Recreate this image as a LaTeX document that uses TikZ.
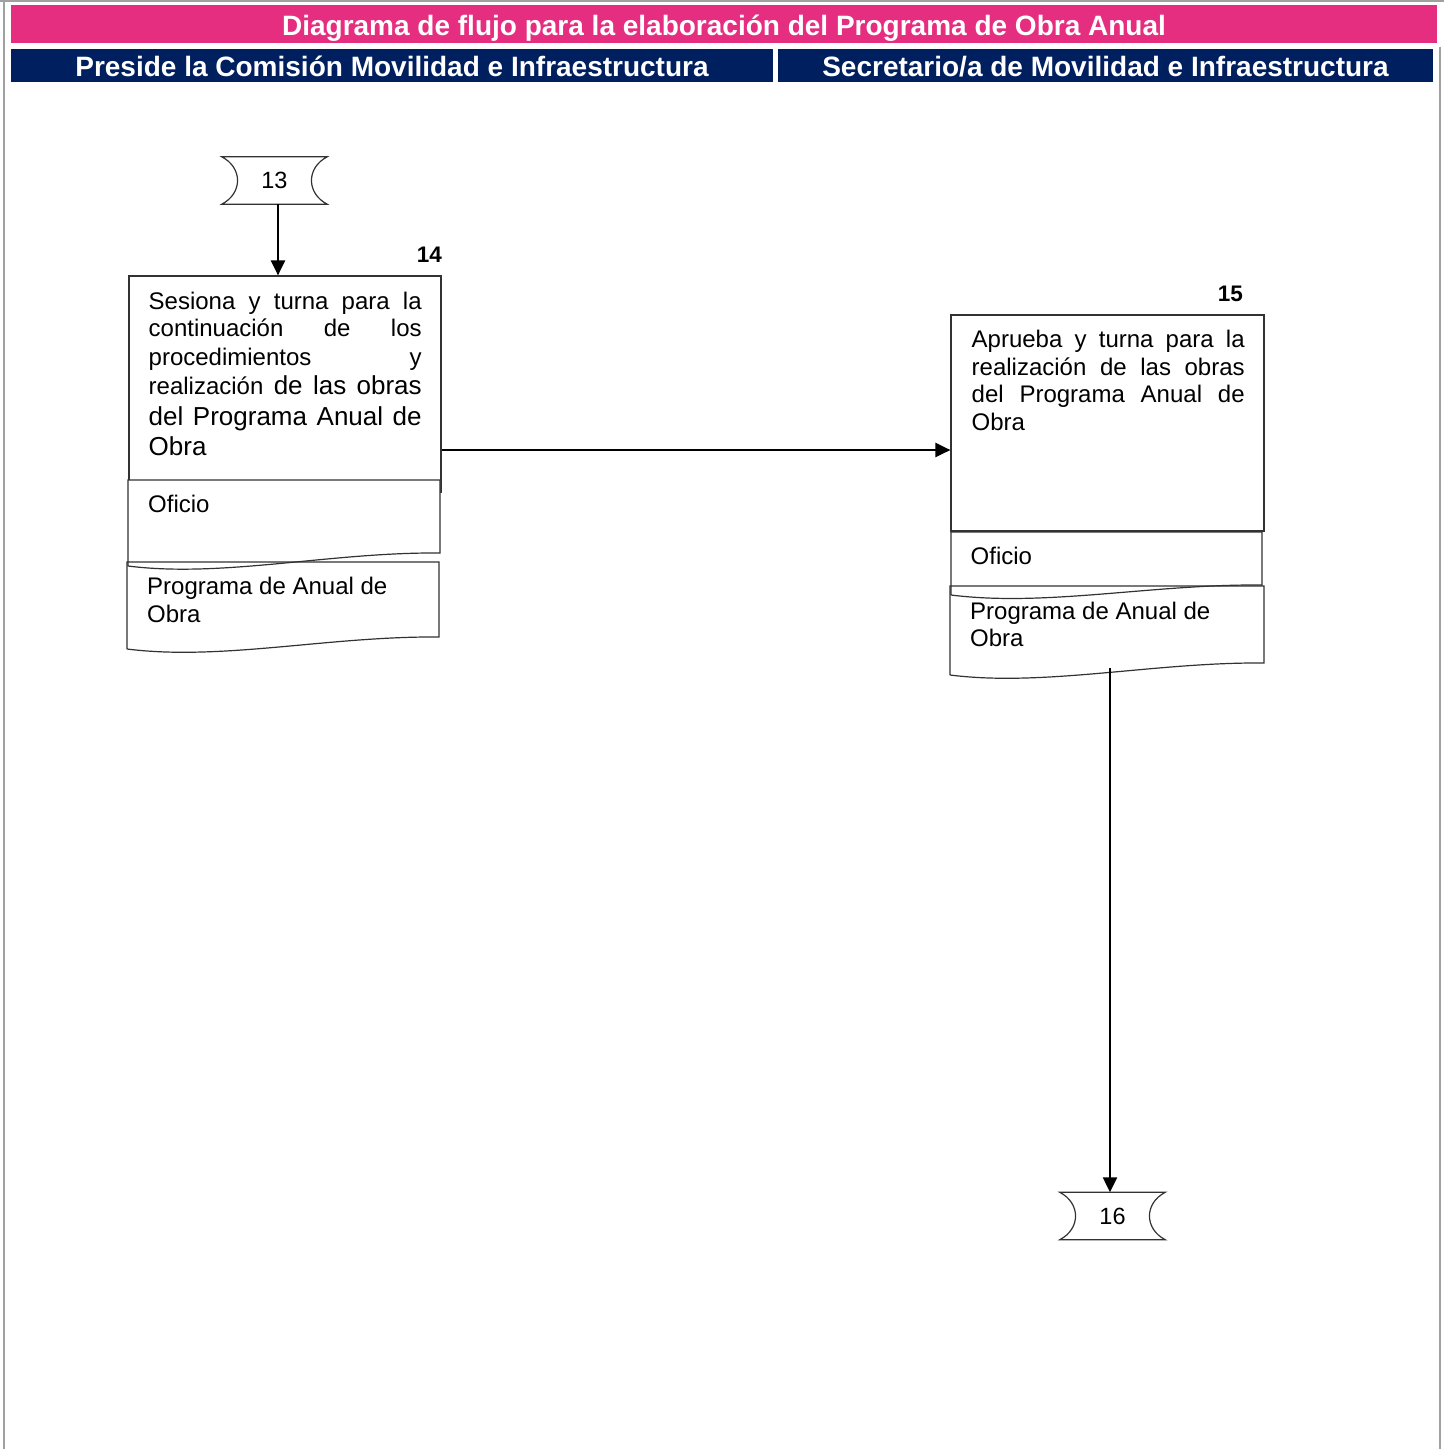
\documentclass[tikz,border=0pt]{standalone}
\usepackage{fontspec}
\setmainfont{Liberation Sans}
\usetikzlibrary{arrows.meta}
\definecolor{titlepink}{RGB}{230,46,128}
\definecolor{lanenavy}{RGB}{0,31,95}
\definecolor{framegray}{RGB}{160,160,160}
\definecolor{edgegray}{RGB}{50,50,50}

% one justified line of a process text
\newcommand\jl[2]{\baselineskip=#1pt\hbox to 273pt{#2}}
% document symbol: left x, right x, top, right bottom, left bottom
\newcommand\docoutline[6][]{%
  \draw[edge,#1] (#2,#6) -- (#2,#4) -- (#3,#4) -- (#3,#5)
    .. controls +(-110,-1) and +(95,12) .. (#2,#6);}

\begin{document}
\begin{tikzpicture}[x=1pt,y=-1pt,
  edge/.style={draw=edgegray,line width=1.2pt},
  flow/.style={draw=black,line width=2.3pt,-{Triangle[length=15pt,width=14pt]}},
  titlebar/.style={fill=titlepink,text=white,inner sep=0pt,
    font=\fontsize{28}{30}\selectfont\bfseries,text height=22pt,text depth=0pt},
  lanebar/.style={fill=lanenavy,text=white,inner sep=0pt,
    font=\fontsize{28}{30}\selectfont\bfseries,text height=22pt,text depth=0pt},
  procbox/.style={edge,fill=white,inner sep=0pt},
  bodytext/.style={inner sep=0pt,anchor=base west,font=\fontsize{24}{27.6}\selectfont},
  stepnum/.style={inner sep=0pt,anchor=base east,font=\fontsize{22.5}{24}\selectfont\bfseries},
  offpage/.style={inner sep=0pt,minimum width=105pt,minimum height=47pt,
    font=\fontsize{23.5}{25}\selectfont},
]
\useasboundingbox (0,0) rectangle (1444,1449);
\fill[white] (0,0) rectangle (1444,1449);

% page frame
\draw[framegray,line width=2.2pt] (0,1.1) -- (1444,1.1);
\draw[framegray,line width=2.2pt] (4.3,0) -- (4.3,1449);
\draw[framegray,line width=2.2pt] (1439.7,46.7) -- (1439.7,1449);

% headers
\node[titlebar,minimum width=1426pt,minimum height=38pt] (title) at (724,24)
  {Diagrama de flujo para la elaboración del Programa de Obra Anual};
\node[lanebar,minimum width=762pt,minimum height=33pt] (laneA) at (392,65.5)
  {Preside la Comisión Movilidad e Infraestructura};
\node[lanebar,minimum width=655pt,minimum height=33pt] (laneB) at (1105.5,65.5)
  {Secretario/a de Movilidad e Infraestructura};

% off-page connector 13
\node[offpage] (c13) at (274.5,180.5) {\raisebox{-1pt}{13}};
\draw[edge] (c13.north west) -- (c13.north east)
  .. controls +(-21,11) and +(-21,-11) .. (c13.south east)
  -- (c13.south west)
  .. controls +(21,-11) and +(21,11) .. (c13.north west) -- cycle;

% step 14
\node[procbox,minimum width=312pt,minimum height=216pt] (b14) at (285,384) {};
\node[stepnum] (n14) at (442,262) {14};
\node[inner sep=0pt,anchor=base west] (t14) at (148.5,309) {\parbox[t]{273pt}{%
  \lineskiplimit=-100pt
  \fontsize{24}{27}\selectfont
  \jl{27}{Sesiona\hfill y\hfill turna\hfill para\hfill la}
  \jl{27.5}{continuación\hfill de\hfill los}
  \jl{28.5}{procedimientos\hfill y}
  \jl{29}{realización\hfill{\fontsize{26}{30}\selectfont de\hfill las\hfill obras}}
  \fontsize{26}{30}\selectfont
  \jl{31.5}{del\hfill Programa\hfill Anual\hfill de}
  \jl{30}{Obra\hfil}}};

% documents of step 14
\docoutline[fill=white]{128}{440}{480}{553}{566}
\node[bodytext] (d14a) at (148,512.7) {Oficio};
\docoutline{127}{439}{562}{637}{649}
\node[bodytext] (d14b) at (147,594.5)
  {\parbox[t]{290pt}{\raggedright Programa de Anual de\\Obra}};

% step 15
\node[procbox,minimum width=313pt,minimum height=216pt] (b15) at (1107.5,423) {};
\node[stepnum] (n15) at (1243,301) {15};
\node[inner sep=0pt,anchor=base west] (t15) at (971.5,347.5) {\parbox[t]{273pt}{%
  \lineskiplimit=-100pt
  \fontsize{24}{27.7}\selectfont
  \jl{27.7}{Aprueba\hfill y\hfill turna\hfill para\hfill la}
  \jl{27.7}{realización\hfill de\hfill las\hfill obras}
  \jl{27.7}{del\hfill Programa\hfill Anual\hfill de}
  \jl{27.7}{Obra\hfil}}};

% documents of step 15
\docoutline[fill=white]{951}{1262}{532}{585}{595}
\node[bodytext] (d15a) at (970.5,564.3) {Oficio};
\docoutline{950}{1264}{586}{663}{675}
\node[bodytext] (d15b) at (970,619)
  {\parbox[t]{290pt}{\raggedright Programa de Anual de\\Obra}};
\coordinate (d15end) at (1110,668);

% off-page connector 16
\node[offpage] (c16) at (1112.5,1216) {\raisebox{-1pt}{16}};
\draw[edge] (c16.north west) -- (c16.north east)
  .. controls +(-21,11) and +(-21,-11) .. (c16.south east)
  -- (c16.south west)
  .. controls +(21,-11) and +(21,11) .. (c16.north west) -- cycle;

% flow
\draw[flow] (c13.south -| 278,0) -- (b14.north -| 278,0);
\draw[flow] (b14.east |- 0,450) -- (b15.west |- 0,450);
\draw[flow] (d15end) -- (d15end |- c16.north);
\end{tikzpicture}
\end{document}
